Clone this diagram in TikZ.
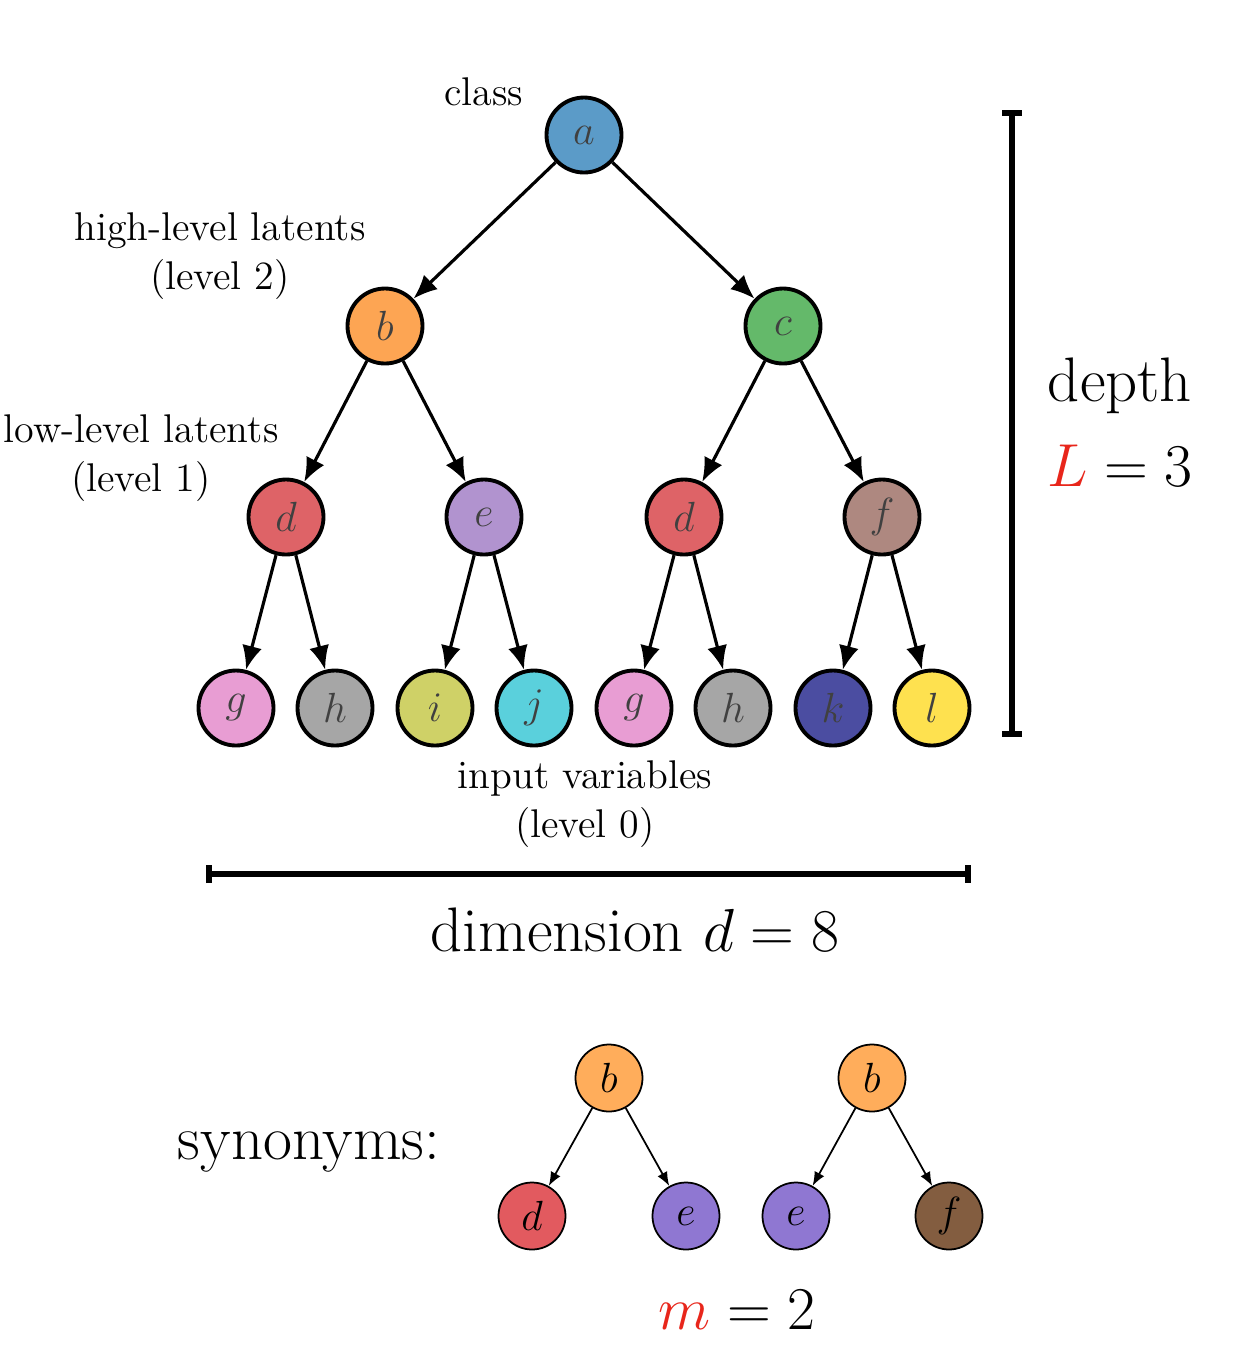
\documentclass[tikz,border=0pt]{standalone}
\usetikzlibrary{arrows.meta}
% colores de los nodos
\definecolor{cA}{HTML}{5B9BC8}
\definecolor{cB}{HTML}{FDA553}
\definecolor{cC}{HTML}{64B96A}
\definecolor{cD}{HTML}{DE6367}
\definecolor{cE}{HTML}{B193CF}
\definecolor{cF}{HTML}{AE8880}
\definecolor{cG}{HTML}{E89DD3}
\definecolor{cH}{HTML}{A6A6A6}
\definecolor{cI}{HTML}{CFD167}
\definecolor{cJ}{HTML}{5AD0DC}
\definecolor{cK}{HTML}{4B4DA1}
\definecolor{cL}{HTML}{FEE14F}
\definecolor{sB}{HTML}{FFAD5B}
\definecolor{sD}{HTML}{E25A5F}
\definecolor{sE}{HTML}{8F77D2}
\definecolor{sF}{HTML}{835D40}
\definecolor{cR}{HTML}{E8261B}

\begin{document}
\begin{tikzpicture}[line width=0.9pt,>={Latex[length=2.4mm,width=2mm]},
  var/.style={circle,draw,line width=1.1pt,minimum size=7.5mm,inner sep=0pt,
    font=\fontsize{12}{14}\selectfont,text=black!75},
  syn/.style={circle,draw,line width=0.5pt,minimum size=6.7mm,inner sep=0pt,
    font=\fontsize{12}{14}\selectfont},
  lbl/.style={align=center,font=\fontsize{11.4}{13.8}\selectfont},
  big/.style={font=\fontsize{17.9}{21}\selectfont}]
  \useasboundingbox (0,0) rectangle (12.4,-13.5);
  % arbol
  \node[var,fill=cA] (a) at (5.84,-1.35) {$a$};
  \node[var,fill=cB] (b) at (3.85,-3.26) {$b$};
  \node[var,fill=cC] (c) at (7.83,-3.26) {$c$};
  \node[var,fill=cD] (d1) at (2.86,-5.17) {$d$};
  \node[var,fill=cE] (e1) at (4.84,-5.17) {$e$};
  \node[var,fill=cD] (d2) at (6.84,-5.17) {$d$};
  \node[var,fill=cF] (f1) at (8.82,-5.17) {$f$};
  % hojas
  \foreach \n/\t/\x/\c in {g1/g/2.36/cG,h1/h/3.35/cH,i/i/4.35/cI,j/j/5.34/cJ,
      g2/g/6.34/cG,h2/h/7.33/cH,k/k/8.33/cK,l/l/9.32/cL}
    \node[var,fill=\c] (\n) at (\x,-7.08) {$\t$};
  \foreach \p/\q in {a/b,a/c,b/d1,b/e1,c/d2,c/f1,d1/g1,d1/h1,e1/i,e1/j,
      d2/g2,d2/h2,f1/k,f1/l}
    \draw[->] (\p)--(\q);
  % niveles
  \node[lbl] (cls) at (4.84,-0.92) {class};
  \node[lbl] (hi) at (2.20,-2.56) {high-level latents\\(level 2)};
  \node[lbl] (lo) at (1.41,-4.58) {low-level latents\\(level 1)};
  \node[lbl] (inp) at (5.85,-8.04) {input variables\\(level 0)};
  % profundidad
  \coordinate (dtop) at (10.12,-1.10);
  \coordinate (dbot) at (10.12,-7.37);
  \draw[{Bar[width=2mm]}-{Bar[width=2mm]},line width=1.6pt] (dtop)--(dbot);
  \node[big] (dep) at (11.2,-3.86) {depth};
  \node[big] (Lval) at (11.2,-4.66) {$\color{cR}L\color{black}=3$};
  % dimension
  \coordinate (wl) at (2.06,-8.74);
  \coordinate (wr) at (9.71,-8.74);
  \draw[{Bar[width=1.8mm]}-{Bar[width=1.8mm]},line width=1.6pt] (wl)--(wr);
  \node[big] (dim) at (6.35,-9.3) {dimension $d=8$};
  % sinonimos
  \node[big] (syns) at (3.09,-11.52) {synonyms:};
  \node[syn,fill=sB] (sb1) at (6.09,-10.78) {$b$};
  \node[syn,fill=sD] (sd) at (5.32,-12.16) {$d$};
  \node[syn,fill=sE] (se1) at (6.86,-12.16) {$e$};
  \node[syn,fill=sB] (sb2) at (8.72,-10.78) {$b$};
  \node[syn,fill=sE] (se2) at (7.96,-12.16) {$e$};
  \node[syn,fill=sF] (sf) at (9.49,-12.16) {$f$};
  \foreach \p/\q in {sb1/sd,sb1/se1,sb2/se2,sb2/sf}
    \draw[-{Latex[length=1.4mm,width=1.1mm]},line width=0.5pt] (\p)--(\q);
  \node[big] (mval) at (7.37,-13.1) {$\color{cR}m\color{black}=2$};
\end{tikzpicture}
\end{document}
